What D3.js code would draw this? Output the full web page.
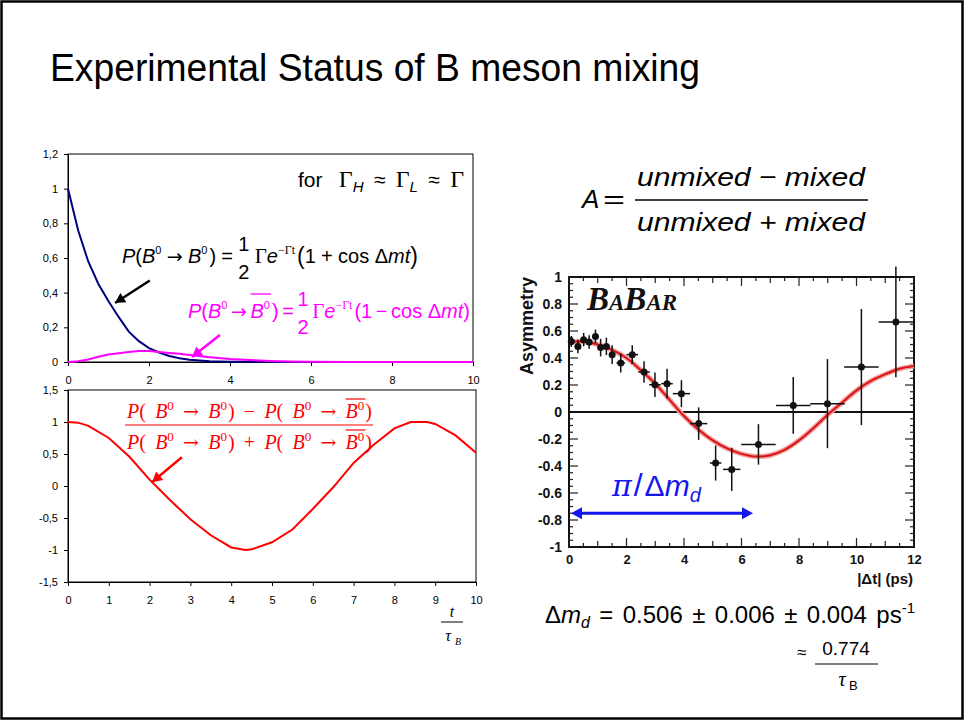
<!DOCTYPE html>
<html><head><meta charset="utf-8">
<script src="https://cdn.jsdelivr.net/npm/d3@7"></script>
<style>
body{margin:0;background:#fff;}
svg{display:block;}
</style></head>
<body>
<svg id="c" width="965" height="721" font-family="Liberation Sans, Arial, sans-serif"></svg>
<script>
// ---------- data ----------
const title = "Experimental Status of B meson mixing";
// top-left chart: probabilities vs t/tau_B
const tTop = [0,0.25,0.5,0.75,1,1.25,1.5,1.75,2,2.25,2.5,2.75,3,3.5,4,4.5,5,5.5,6,7,8,9,10];
const pUnmixed = [1.00,0.76,0.58,0.45,0.35,0.26,0.175,0.12,0.08,0.055,0.035,0.022,0.013,0.005,0.002,0.001,0,0,0,0,0,0,0];
const pMixed   = [0,0.004,0.015,0.03,0.043,0.05,0.058,0.064,0.063,0.058,0.052,0.047,0.040,0.028,0.018,0.011,0.006,0.003,0.001,0,0,0,0];
const topYTicks = [0,0.2,0.4,0.6,0.8,1,1.2];
const topXTicks = [0,2,4,6,8,10];
// bottom-left chart: asymmetry vs t/tau_B
const tBot = [0,0.25,0.5,1,1.5,2,2.5,3,3.5,4,4.35,4.5,5,5.5,6,6.5,7,7.5,8,8.4,8.8,9,9.5,10];
const asym = [1.00,0.99,0.94,0.75,0.46,0.10,-0.22,-0.52,-0.77,-0.96,-1.0,-0.99,-0.88,-0.68,-0.36,-0.02,0.36,0.65,0.90,1.0,1.0,0.97,0.79,0.52];
const botYTicks = [-1.5,-1,-0.5,0,0.5,1,1.5];
const botXTicks = [0,1,2,3,4,5,6,7,8,9,10];
// right: BaBar asymmetry data
const babarT    = [0.08,0.31,0.51,0.70,0.92,1.10,1.30,1.50,1.80,2.20,2.61,2.99,3.41,3.91,4.51,5.10,5.66,6.59,7.80,8.99,10.17,11.37];
const babarA    = [0.523,0.486,0.536,0.519,0.56,0.477,0.486,0.425,0.363,0.425,0.296,0.202,0.21,0.136,-0.086,-0.378,-0.425,-0.24,0.049,0.062,0.333,0.667];
const babarErrY = [0.04,0.05,0.05,0.05,0.05,0.065,0.065,0.07,0.07,0.07,0.08,0.09,0.11,0.10,0.12,0.13,0.16,0.15,0.21,0.33,0.43,0.41];
const babarErrX = [0.08,0.1,0.1,0.1,0.1,0.1,0.1,0.1,0.15,0.2,0.2,0.2,0.2,0.3,0.3,0.2,0.3,0.6,0.6,0.6,0.6,0.6];
const fitT = [0,0.5,1,1.5,2,2.5,3,3.5,4,4.5,5,5.5,6,6.5,7,7.5,8,8.5,9,9.5,10,10.5,11,11.5,12];
const fitA = [0.52,0.52,0.50,0.46,0.40,0.31,0.21,0.09,-0.03,-0.13,-0.21,-0.27,-0.31,-0.33,-0.32,-0.28,-0.21,-0.12,-0.02,0.07,0.16,0.23,0.28,0.32,0.34];
const rYTicks = [-1,-0.8,-0.6,-0.4,-0.2,0,0.2,0.4,0.6,0.8,1];
const rXTicks = [0,2,4,6,8,10,12];

// ---------- helpers ----------
const SANS = "Liberation Sans, Arial, sans-serif", SERIF = "Liberation Serif, Times New Roman, serif";
const svg = d3.select("#c");
svg.append("rect").attr("x",1.5).attr("y",1.5).attr("width",961).attr("height",717)
  .attr("fill","#fff").attr("stroke","#000").attr("stroke-width",2.5);

function seq(g, x0, y, base, color, parts, target){
  let x = x0; const items = [];
  parts.forEach(p=>{
    const s = p.s||base;
    if(p.frac){
      const a = g.append("text").attr("y", y+p.up).attr("font-size",s).attr("fill",color).attr("text-anchor","middle").text(p.frac[0]);
      const b = g.append("text").attr("y", y+p.down).attr("font-size",s).attr("fill",color).attr("text-anchor","middle").text(p.frac[1]);
      const w = Math.max(a.node().getComputedTextLength(), b.node().getComputedTextLength());
      a.attr("x", x+w/2); b.attr("x", x+w/2);
      items.push({nodes:[a,b],x,w,p}); x += w + (p.gap||0);
    } else {
      const t = g.append("text").attr("x",x).attr("y",y+(p.dy||0)).attr("font-size",s).attr("fill",color).text(p.t);
      if(p.i) t.attr("font-style","italic");
      if(p.b) t.attr("font-weight","bold");
      if(p.f) t.attr("font-family",p.f);
      const w = t.node().getComputedTextLength();
      items.push({nodes:[t],x,w,p}); x += w + (p.gap||0);
    }
  });
  if(target){
    const n = parts.filter(p=>p.g).length;
    const extra = n ? (target-(x-x0))/n : 0;
    let sh = 0;
    items.forEach(it=>{
      if(sh){ it.nodes.forEach(nd=>nd.attr("x", +nd.attr("x")+sh)); it.x += sh; }
      if(it.p.g) sh += extra;
    });
  }
  return {ext:items};
}
function arrow(g, x1,y1,x2,y2,color,w,head){
  g.append("line").attr("x1",x1).attr("y1",y1).attr("x2",x2).attr("y2",y2)
   .attr("stroke",color).attr("stroke-width",w);
  const ang = Math.atan2(y2-y1,x2-x1), L=head, W=head*0.55;
  const p = [[x2,y2],[x2-L*Math.cos(ang)+W*Math.sin(ang), y2-L*Math.sin(ang)-W*Math.cos(ang)],
             [x2-L*Math.cos(ang)-W*Math.sin(ang), y2-L*Math.sin(ang)+W*Math.cos(ang)]];
  g.append("path").attr("d","M"+p.map(q=>q.join(",")).join("L")+"Z").attr("fill",color);
}
const comma = d=> String(d).replace(".",",");
const styleAxis = (fs,bold,col)=> s=>{
  s.select(".domain").attr("stroke","#000");
  s.selectAll(".tick line").attr("stroke","#000");
  s.selectAll("text").attr("font-size",fs).attr("font-family",SANS).attr("fill",col||"#000");
  if(bold) s.selectAll("text").attr("font-weight","bold");
};

// ---------- title ----------
svg.append("text").attr("x",50).attr("y",81).attr("font-size",38)
  .attr("textLength",650).attr("lengthAdjust","spacingAndGlyphs").text(title);

// ---------- top-left chart ----------
const xT = d3.scaleLinear().domain([0,10]).range([68,473]);
const yT = d3.scaleLinear().domain([0,1.2]).range([362,154]);
const gT = svg.append("g");
gT.append("rect").attr("x",68).attr("y",154).attr("width",405).attr("height",208).attr("fill","none").attr("stroke","#000").attr("stroke-width",1);
gT.append("g").attr("transform","translate(68,0)")
  .call(d3.axisLeft(yT).tickValues(topYTicks).tickSize(4).tickSizeOuter(0).tickPadding(6).tickFormat(comma))
  .call(styleAxis(11));
gT.append("g").attr("transform","translate(0,362)")
  .call(d3.axisBottom(xT).tickValues(topXTicks).tickSize(4).tickSizeOuter(0).tickPadding(10))
  .call(styleAxis(11));
const lineT = (ys)=> d3.line().x((d,i)=>xT(tTop[i])).y(d=>yT(d))(ys);
gT.append("path").attr("d",lineT(pUnmixed)).attr("fill","none").attr("stroke","#000080").attr("stroke-width",2);
gT.append("path").attr("d",lineT(pMixed)).attr("fill","none").attr("stroke","#ff00ff").attr("stroke-width",2);

// annotations top chart
seq(gT, 298, 187, 21, "#000", [
  {t:"for", gap:10, g:1},{t:"Γ",f:SERIF,s:24},{t:"H",i:1,s:15,dy:5,gap:4,g:1},{t:"≈",gap:4,g:1},
  {t:"Γ",f:SERIF,s:24},{t:"L",i:1,s:15,dy:5,gap:4,g:1},{t:"≈",gap:4,g:1},{t:"Γ",f:SERIF,s:24}
], 166);
seq(gT, 122, 263, 20, "#000", [
  {t:"P",i:1},{t:"("},{t:"B",i:1},{t:"0",s:11,dy:-9,g:1},{t:"→",f:"DejaVu Sans",s:19,g:1},{t:"B",i:1},{t:"0",s:11,dy:-9,gap:2},
  {t:")",g:1},{t:"=",g:1},{frac:["1","2"],up:-12,down:16,g:1},{t:"Γ",f:SERIF,s:21},{t:"e",i:1},
  {t:"−Γt",s:12,dy:-9,f:SERIF,gap:2},{t:"(",s:23,dy:1},{t:"1",g:1},{t:"+",g:1},{t:"cos Δ"},{t:"mt",i:1},{t:")",s:23,dy:1}
], 296);
const mg = seq(gT, 188, 318, 20, "#ff00ff", [
  {t:"P",i:1},{t:"("},{t:"B",i:1},{t:"0",s:11,dy:-9,g:1},{t:"→",f:"DejaVu Sans",s:19,g:1},{t:"B",i:1},{t:"0",s:11,dy:-9,gap:2},
  {t:")",g:1},{t:"=",g:1},{frac:["1","2"],up:-12,down:16,g:1},{t:"Γ",f:SERIF,s:21},{t:"e",i:1},
  {t:"−Γt",s:12,dy:-9,f:SERIF,gap:2},{t:"(1",g:1},{t:"−",g:1},{t:"cos Δ"},{t:"mt",i:1},{t:")"}
], 282);
gT.append("line").attr("x1",mg.ext[5].x).attr("x2",mg.ext[6].x+mg.ext[6].w+1).attr("y1",294).attr("y2",294)
  .attr("stroke","#ff00ff").attr("stroke-width",1.3);
arrow(gT, xT(2.02), yT(0.47), xT(1.16), yT(0.34), "#000", 2.5, 10);
arrow(gT, xT(3.75), yT(0.156), xT(3.06), yT(0.029), "#ff00ff", 2.5, 10);

// ---------- bottom-left chart ----------
const xB = d3.scaleLinear().domain([0,10]).range([68,476]);
const yB = d3.scaleLinear().domain([-1.5,1.5]).range([582,390]);
const gB = svg.append("g");
gB.append("rect").attr("x",68).attr("y",390).attr("width",408).attr("height",192).attr("fill","none").attr("stroke","#000").attr("stroke-width",1);
gB.append("g").attr("transform","translate(68,0)")
  .call(d3.axisLeft(yB).tickValues(botYTicks).tickSize(4).tickSizeOuter(0).tickPadding(6).tickFormat(comma))
  .call(styleAxis(11));
gB.append("g").attr("transform","translate(0,582)")
  .call(d3.axisBottom(xB).tickValues(botXTicks).tickSize(4).tickSizeOuter(0).tickPadding(10))
  .call(styleAxis(11));
gB.append("path").attr("d",d3.line().x((d,i)=>xB(tBot[i])).y(d=>yB(d))(asym))
  .attr("fill","none").attr("stroke","#ff0000").attr("stroke-width",2);
// t / tau_B label
gB.append("text").attr("x",452).attr("y",617).attr("font-size",16).attr("font-style","italic").attr("font-family",SERIF).attr("text-anchor","middle").text("t");
gB.append("line").attr("x1",441).attr("x2",463).attr("y1",622).attr("y2",622).attr("stroke","#000").attr("stroke-width",1);
gB.append("text").attr("x",448).attr("y",641).attr("font-size",16).attr("font-style","italic").attr("font-family",SERIF).attr("text-anchor","middle").text("τ");
gB.append("text").attr("x",455).attr("y",645).attr("font-size",10).attr("font-style","italic").attr("font-family",SERIF).text("B");
// red fraction formula
function redPart(y, sign){
  return seq(gB, 127, y, 20, "#ff0000", [
    {t:"P",i:1,f:SERIF},{t:"(",f:SERIF,g:1},{t:"B",i:1,f:SERIF},{t:"0",s:13,dy:-8,f:SERIF,g:1},
    {t:"→",g:1,f:"DejaVu Serif",s:19},{t:"B",i:1,f:SERIF},{t:"0",s:13,dy:-8,f:SERIF,gap:1},{t:")",f:SERIF,g:1},
    {t:sign,f:SERIF,g:1},
    {t:"P",i:1,f:SERIF},{t:"(",f:SERIF,g:1},{t:"B",i:1,f:SERIF},{t:"0",s:13,dy:-8,f:SERIF,g:1},
    {t:"→",g:1,f:"DejaVu Serif",s:19},{t:"B",i:1,f:SERIF},{t:"0",s:13,dy:-8,f:SERIF,gap:1},{t:")",f:SERIF}
  ], 245);
}
const rn = redPart(418,"−"), rd = redPart(449,"+");
[[rn,399],[rd,430]].forEach(([r,yy])=>{
  gB.append("line").attr("x1",r.ext[14].x).attr("x2",r.ext[15].x+r.ext[15].w+1).attr("y1",yy).attr("y2",yy).attr("stroke","#ff0000").attr("stroke-width",1.2);
});
gB.append("line").attr("x1",125).attr("x2",373).attr("y1",425).attr("y2",425).attr("stroke","#ff0000").attr("stroke-width",1.2);
arrow(gB, xB(2.79), yB(0.45), xB(2.06), yB(0.06), "#ff0000", 2.5, 10);

// ---------- right: A formula ----------
const gA = svg.append("g");
gA.append("text").attr("x",582).attr("y",208).attr("font-size",26).attr("font-style","italic").text("A");
gA.append("text").attr("x",603).attr("y",208).attr("font-size",26)
  .attr("textLength",22).attr("lengthAdjust","spacingAndGlyphs").text("=");
gA.append("text").attr("x",637).attr("y",186).attr("font-size",26).attr("font-style","italic")
  .attr("textLength",228).attr("lengthAdjust","spacingAndGlyphs").text("unmixed − mixed");
gA.append("text").attr("x",637).attr("y",231).attr("font-size",26).attr("font-style","italic")
  .attr("textLength",228).attr("lengthAdjust","spacingAndGlyphs").text("unmixed + mixed");
gA.append("line").attr("x1",635).attr("x2",868).attr("y1",200).attr("y2",200).attr("stroke","#000").attr("stroke-width",1.5);

// ---------- right: BaBar plot ----------
const xR = d3.scaleLinear().domain([0,12]).range([569,914]);
const yR = d3.scaleLinear().domain([-1,1]).range([547,277]);
const gR = svg.append("g");
gR.append("rect").attr("x",569).attr("y",277).attr("width",345).attr("height",270).attr("fill","#fff").attr("stroke","#111").attr("stroke-width",2);
const minorX = d3.range(0,12.01,0.5), minorY = d3.range(-1,1.001,0.05);
const lenX = d=> (Math.abs(d%2)<1e-6?9:(Math.abs(d%1)<1e-6?6:4));
gR.selectAll(".mx").data(minorX).join("line")
  .attr("x1",d=>xR(d)).attr("x2",d=>xR(d)).attr("y1",547).attr("y2",d=>547-lenX(d))
  .attr("stroke","#222").attr("stroke-width",1.2);
gR.selectAll(".mxt").data(minorX).join("line")
  .attr("x1",d=>xR(d)).attr("x2",d=>xR(d)).attr("y1",277).attr("y2",d=>277+lenX(d))
  .attr("stroke","#222").attr("stroke-width",1.2);
gR.selectAll(".my").data(minorY).join("line")
  .attr("y1",d=>yR(d)).attr("y2",d=>yR(d)).attr("x1",569).attr("x2",(d,i)=>569+(i%4===0?9:4))
  .attr("stroke","#222").attr("stroke-width",1.2);
gR.selectAll(".myr").data(minorY).join("line")
  .attr("y1",d=>yR(d)).attr("y2",d=>yR(d)).attr("x1",914).attr("x2",(d,i)=>914-(i%4===0?9:4))
  .attr("stroke","#222").attr("stroke-width",1.2);
gR.append("g").attr("transform","translate(569,0)")
  .call(d3.axisLeft(yR).tickValues(rYTicks).tickSize(0).tickPadding(7).tickFormat(d=>String(+d.toFixed(1))))
  .call(s=>s.select(".domain").remove()).call(styleAxis(14,true,"#111"));
gR.append("g").attr("transform","translate(0,547)")
  .call(d3.axisBottom(xR).tickValues(rXTicks).tickSize(0).tickPadding(8))
  .call(s=>s.select(".domain").remove()).call(styleAxis(13,true,"#111"));
gR.append("text").attr("transform","translate(533,326) rotate(-90)").attr("text-anchor","middle")
  .attr("font-size",18).attr("font-weight","bold").attr("fill","#111").text("Asymmetry");
gR.append("text").attr("x",913).attr("y",584).attr("text-anchor","end").attr("font-size",15).attr("font-weight","bold").attr("fill","#111").text("|Δt| (ps)");
// BaBar logo
const lg = gR.append("text").attr("x",587).attr("y",310).attr("font-family",SERIF).attr("font-style","italic").attr("font-weight","bold").attr("fill","#111");
lg.append("tspan").attr("font-size",33).text("B");
lg.append("tspan").attr("font-size",23).text("A");
lg.append("tspan").attr("font-size",33).text("B");
lg.append("tspan").attr("font-size",23).text("AR");
// zero line
gR.append("line").attr("x1",xR(0)).attr("x2",xR(12)).attr("y1",yR(0)).attr("y2",yR(0)).attr("stroke","#111").attr("stroke-width",2);
// fit curve
const fitLine = d3.line().x((d,i)=>xR(fitT[i])).y(d=>yR(d)).curve(d3.curveCatmullRom);
gR.append("path").attr("d",fitLine(fitA)).attr("fill","none").attr("stroke","#f0a0a0").attr("stroke-width",5);
gR.append("path").attr("d",fitLine(fitA)).attr("fill","none").attr("stroke","#dd1111").attr("stroke-width",2);
// data points
const pts = babarT.map((t,i)=>({t,a:babarA[i],ey:babarErrY[i],ex:babarErrX[i]}));
gR.selectAll(".ey").data(pts).join("line").attr("x1",d=>xR(d.t)).attr("x2",d=>xR(d.t))
  .attr("y1",d=>yR(d.a-d.ey)).attr("y2",d=>yR(d.a+d.ey)).attr("stroke","#111").attr("stroke-width",1.5);
gR.selectAll(".ex").data(pts).join("line").attr("x1",d=>xR(d.t-d.ex)).attr("x2",d=>xR(d.t+d.ex))
  .attr("y1",d=>yR(d.a)).attr("y2",d=>yR(d.a)).attr("stroke","#111").attr("stroke-width",1.5);
gR.selectAll(".pt").data(pts).join("circle").attr("cx",d=>xR(d.t)).attr("cy",d=>yR(d.a)).attr("r",3.5).attr("fill","#111");
// pi / delta m_d
seq(gR, 612, 496, 30, "#1515ee", [
  {t:"π",i:1,f:"DejaVu Serif",s:30,gap:2},{t:"/",s:32,gap:2},{t:"Δ",s:30},{t:"m",i:1,s:30},{t:"d",i:1,s:20,dy:6}
]);
(function(){
  const y = yR(-0.75), x1 = xR(0.07), x2 = xR(6.4), c="#1515ee";
  gR.append("line").attr("x1",x1+6).attr("x2",x2-6).attr("y1",y).attr("y2",y).attr("stroke",c).attr("stroke-width",3);
  gR.append("path").attr("d",`M${x1},${y}L${x1+11},${y-6}L${x1+11},${y+6}Z`).attr("fill",c);
  gR.append("path").attr("d",`M${x2},${y}L${x2-11},${y-6}L${x2-11},${y+6}Z`).attr("fill",c);
})();

// ---------- delta m_d ----------
seq(svg, 545, 623, 24, "#000", [
  {t:"Δ"},{t:"m",i:1},{t:"d",i:1,s:16,dy:5,g:1},{t:"=",g:1},{t:"0.506",g:1},{t:"±",g:1},{t:"0.006",g:1},{t:"±",g:1},{t:"0.004",g:1},{t:"ps"},{t:"-1",s:15,dy:-10}
], 370);
svg.append("text").attr("x",797).attr("y",658).attr("font-size",17).text("≈");
svg.append("text").attr("x",846).attr("y",655).attr("font-size",19).attr("text-anchor","middle").text("0.774");
svg.append("line").attr("x1",815).attr("x2",878).attr("y1",664).attr("y2",664).attr("stroke","#000").attr("stroke-width",1);
svg.append("text").attr("x",842).attr("y",686).attr("font-size",20).attr("font-style","italic").attr("font-family",SERIF).attr("text-anchor","middle").text("τ");
svg.append("text").attr("x",849).attr("y",690).attr("font-size",13).text("B");
</script>
</body></html>
